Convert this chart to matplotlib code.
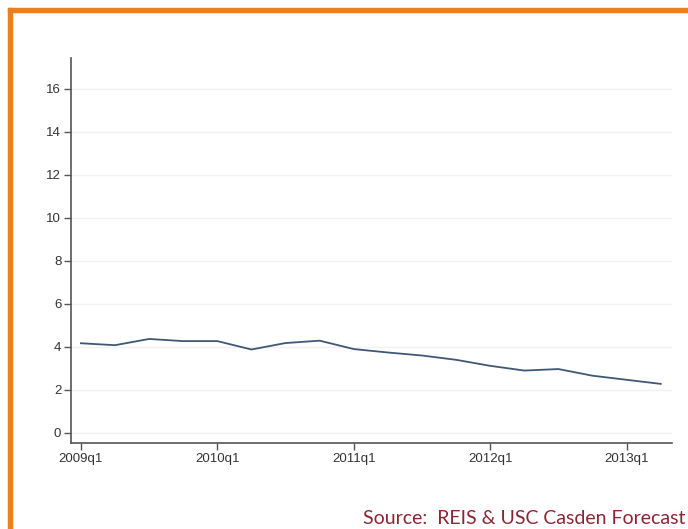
import numpy as np
import matplotlib
matplotlib.use("Agg")
import matplotlib.pyplot as plt
from matplotlib.patches import Rectangle

# quarterly values, 2009q1 .. 2013q2
quarters = ["2009q1", "2009q2", "2009q3", "2009q4",
            "2010q1", "2010q2", "2010q3", "2010q4",
            "2011q1", "2011q2", "2011q3", "2011q4",
            "2012q1", "2012q2", "2012q3", "2012q4",
            "2013q1", "2013q2"]
values = [4.17, 4.08, 4.37, 4.27, 4.27, 3.88, 4.18, 4.29,
          3.90, 3.74, 3.60, 3.40, 3.12, 2.90, 2.97, 2.66, 2.47, 2.28]
y_ticks = [0, 2, 4, 6, 8, 10, 12, 14, 16]
x_tick_labels = ["2009q1", "2010q1", "2011q1", "2012q1", "2013q1"]

fig = plt.figure(figsize=(6.88, 5.29), dpi=100)
ax = fig.add_axes([71 / 688, 1 - 443 / 529, 601 / 688, 385 / 529])

x = np.arange(len(quarters))
ax.plot(x, values, color="#3f5873", linewidth=1.3)

ax.set_ylim(-0.47, 17.44)
ax.set_xlim(-0.29, 17.33)
ax.set_yticks(y_ticks)
ax.set_xticks([quarters.index(q) for q in x_tick_labels])
ax.set_xticklabels(x_tick_labels)

ax.yaxis.grid(True, color="#f2f2f2", linewidth=1.0)
ax.set_axisbelow(True)
for side in ["top", "right"]:
    ax.spines[side].set_visible(False)
for side in ["left", "bottom"]:
    ax.spines[side].set_color("#555555")
    ax.spines[side].set_linewidth(1.2)
ax.tick_params(axis="both", colors="#555555", length=5, width=1,
               labelsize=9.5, labelcolor="#333333", pad=2)
for lbl in ax.get_xticklabels() + ax.get_yticklabels():
    lbl.set_family("Liberation Sans")

# orange frame on top and left
fig.patches.append(Rectangle((8 / 688, 1 - 12 / 529), 1, 4 / 529,
                             transform=fig.transFigure, color="#e8801f", zorder=5))
fig.patches.append(Rectangle((8 / 688, 0), 4 / 688, 1 - 8 / 529,
                             transform=fig.transFigure, color="#e8801f", zorder=5))

fig.text(685 / 688, 1 - 524 / 529, "Source:  REIS & USC Casden Forecast",
         ha="right", va="baseline", fontsize=14, color="#8b2534", family="Lato")

fig.savefig("out.png", dpi=100)
